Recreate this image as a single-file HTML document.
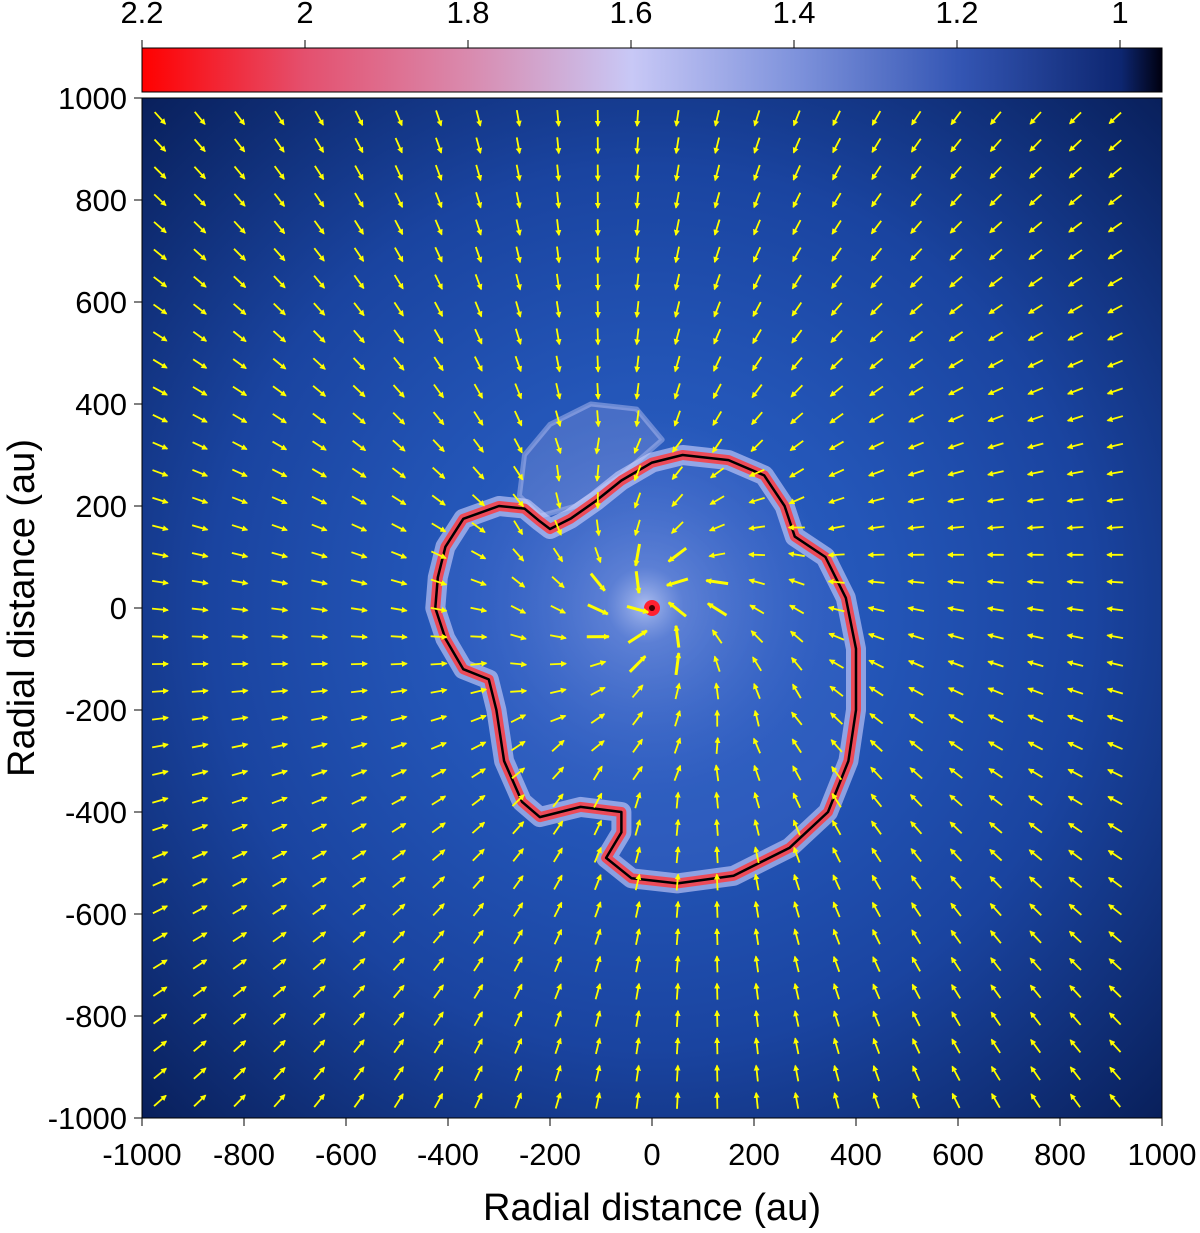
<!DOCTYPE html>
<html><head><meta charset="utf-8"><style>
html,body{margin:0;padding:0;background:#fff;}
svg{display:block;font-family:"Liberation Sans",sans-serif;}
</style></head><body>
<svg id="c" width="1200" height="1233" viewBox="0 0 1200 1233">
<defs>
<linearGradient id="cb" x1="0" x2="1" y1="0" y2="0">
<stop offset="0" stop-color="#ff0000"/><stop offset="0.16" stop-color="#e4506e"/>
<stop offset="0.32" stop-color="#d98aae"/><stop offset="0.48" stop-color="#c8c8f6"/>
<stop offset="0.64" stop-color="#7f93dc"/><stop offset="0.8" stop-color="#3456b4"/>
<stop offset="0.96" stop-color="#0d2670"/><stop offset="1" stop-color="#000010"/>
</linearGradient>
<radialGradient id="bg" cx="0.5" cy="0.5" r="0.72">
<stop offset="0" stop-color="#2e62c4"/><stop offset="0.3" stop-color="#2456b8"/>
<stop offset="0.6" stop-color="#1a44a0"/><stop offset="1" stop-color="#081e58"/>
</radialGradient>
<radialGradient id="core" cx="0.5" cy="0.5" r="0.5">
<stop offset="0" stop-color="#dde4ff" stop-opacity="0.9"/><stop offset="0.2" stop-color="#8ea4e8" stop-opacity="0.55"/>
<stop offset="1" stop-color="#4a70d0" stop-opacity="0"/>
</radialGradient>
<marker id="ah" markerWidth="6" markerHeight="6" refX="5" refY="3" orient="auto" markerUnits="userSpaceOnUse">
<path d="M0,0 L6,3 L0,6 z" fill="#ffff00"/></marker>
<clipPath id="pc"><rect x="142" y="98" width="1020" height="1020"/></clipPath>
</defs>
<rect x="142" y="48" width="1020" height="44" fill="url(#cb)" stroke="#000" stroke-width="1"/>
<g id="cbt"></g>
<rect x="142" y="98" width="1020" height="1020" fill="url(#bg)"/>
<g clip-path="url(#pc)">
<circle cx="645" cy="605" r="190" fill="url(#core)"/>
<g id="shell"></g>
<g id="arrows"></g>
</g>
<rect x="142" y="98" width="1020" height="1020" fill="none" stroke="#000" stroke-width="1"/>
<line x1="142" y1="96" x2="1162" y2="96" stroke="#fff" stroke-width="3"/>
<g id="axes"></g>
<text x="652" y="1220" font-size="38" text-anchor="middle">Radial distance (au)</text>
<text x="34" y="608" font-size="38" text-anchor="middle" transform="rotate(-90 34 608)">Radial distance (au)</text>
</svg>
<script>
const NS="http://www.w3.org/2000/svg";
const axisTicks=[-1000,-800,-600,-400,-200,0,200,400,600,800,1000];
const cbTicks=[2.2,2,1.8,1.6,1.4,1.2,1];
const shellPts=[[60,300],[150,290],[220,260],[260,200],[280,140],[340,100],[380,20],[400,-80],[400,-200],[385,-300],[345,-400],[270,-470],[160,-525],[50,-540],[-40,-530],[-90,-490],[-60,-440],[-60,-400],[-140,-390],[-220,-410],[-255,-380],[-290,-300],[-305,-200],[-320,-140],[-370,-120],[-405,-60],[-425,0],[-420,60],[-405,120],[-370,175],[-300,200],[-250,195],[-220,170],[-200,155],[-160,175],[-110,210],[-60,250],[0,285],[60,300]];
const lobePts=[[-260,220],[-250,300],[-200,360],[-120,400],[-30,390],[20,330],[-60,260],[-150,200],[-220,180]];
const flowCenter=[5,5];
const swirl=[0.35];
const X=v=>652+v*0.51, Y=v=>608-v*0.51, CB=v=>1120-(v-1)*815;
const mk=(t,a,p)=>{const e=document.createElementNS(NS,t);for(const k in a)e.setAttribute(k,a[k]);(p||document.getElementById('c')).appendChild(e);return e;};
const ax=document.getElementById('axes');
axisTicks.forEach(v=>{
 let t=mk('text',{x:X(v),y:1165,'font-size':31,'text-anchor':'middle'},ax);t.textContent=v;
 
 
 let u=mk('text',{x:127,y:Y(v)+11,'font-size':31,'text-anchor':'end'},ax);u.textContent=v;
 
 
 mk('line',{x1:X(v),x2:X(v),y1:1118,y2:1126,stroke:'#000'},ax);
 mk('line',{x1:134,x2:142,y1:Y(v),y2:Y(v),stroke:'#000'},ax);
});
const cbg=document.getElementById('cbt');
cbTicks.forEach(v=>{
 let t=mk('text',{x:CB(v),y:23,'font-size':31,'text-anchor':'middle'},cbg);t.textContent=v;
 
 
 mk('line',{x1:CB(v),x2:CB(v),y1:40,y2:48,stroke:'#000'},cbg);
});
const sh=document.getElementById('shell');
const pathOf=(pts,close)=>{let d='';pts.forEach((p,i)=>{d+=(i?'L':'M')+X(p[0]).toFixed(1)+','+Y(p[1]).toFixed(1);});return d+(close?'Z':'');};
let lobe=mk('path',{d:pathOf(lobePts,true),fill:'#8a9ae0','fill-opacity':0.35,stroke:'#b0bcf0','stroke-width':5,'stroke-opacity':0.5,'stroke-linejoin':'round'},sh);


let sd=pathOf(shellPts,true);
mk('path',{d:sd,fill:'#4a70d0','fill-opacity':0.25},sh);
mk('path',{d:sd,fill:'none',stroke:'#d0d4ff','stroke-width':20,'stroke-opacity':0.6,'stroke-linejoin':'round'},sh);
let red=mk('path',{d:sd,fill:'none',stroke:'#ec4a58','stroke-width':10,'stroke-linejoin':'round'},sh);


let bl=mk('path',{d:sd,fill:'none',stroke:'#000','stroke-width':2.5,'stroke-linejoin':'round'},sh);


let dot=mk('circle',{cx:X(0),cy:Y(0),r:8,fill:'#ff2030'},sh);


mk('circle',{cx:X(0),cy:Y(0),r:3,fill:'#400'},sh);
const ar=document.getElementById('arrows');
for(let i=0;i<25;i++)for(let j=0;j<37;j++){
 const px=160+i*39.8, py=118+j*27.3;
 const vx=(px-X(flowCenter[0])), vy=(py-Y(flowCenter[1]));
 const r=Math.hypot(vx,vy);
 let dx=-vx/r, dy=-vy/r;
 const s=r<170?0.5:swirl[0]*Math.exp(-r/400);
 const rx=dx*Math.cos(s)-dy*Math.sin(s), ry=dx*Math.sin(s)+dy*Math.cos(s);
 const L=r<70?22:16;
 const a=mk('line',{x1:px-rx*L/2,y1:py-ry*L/2,x2:px+rx*L/2,y2:py+ry*L/2,stroke:'#ffff00','stroke-width':r<70?3:1.8,'marker-end':'url(#ah)'},ar);
 
 
}
</script>
</body></html>
